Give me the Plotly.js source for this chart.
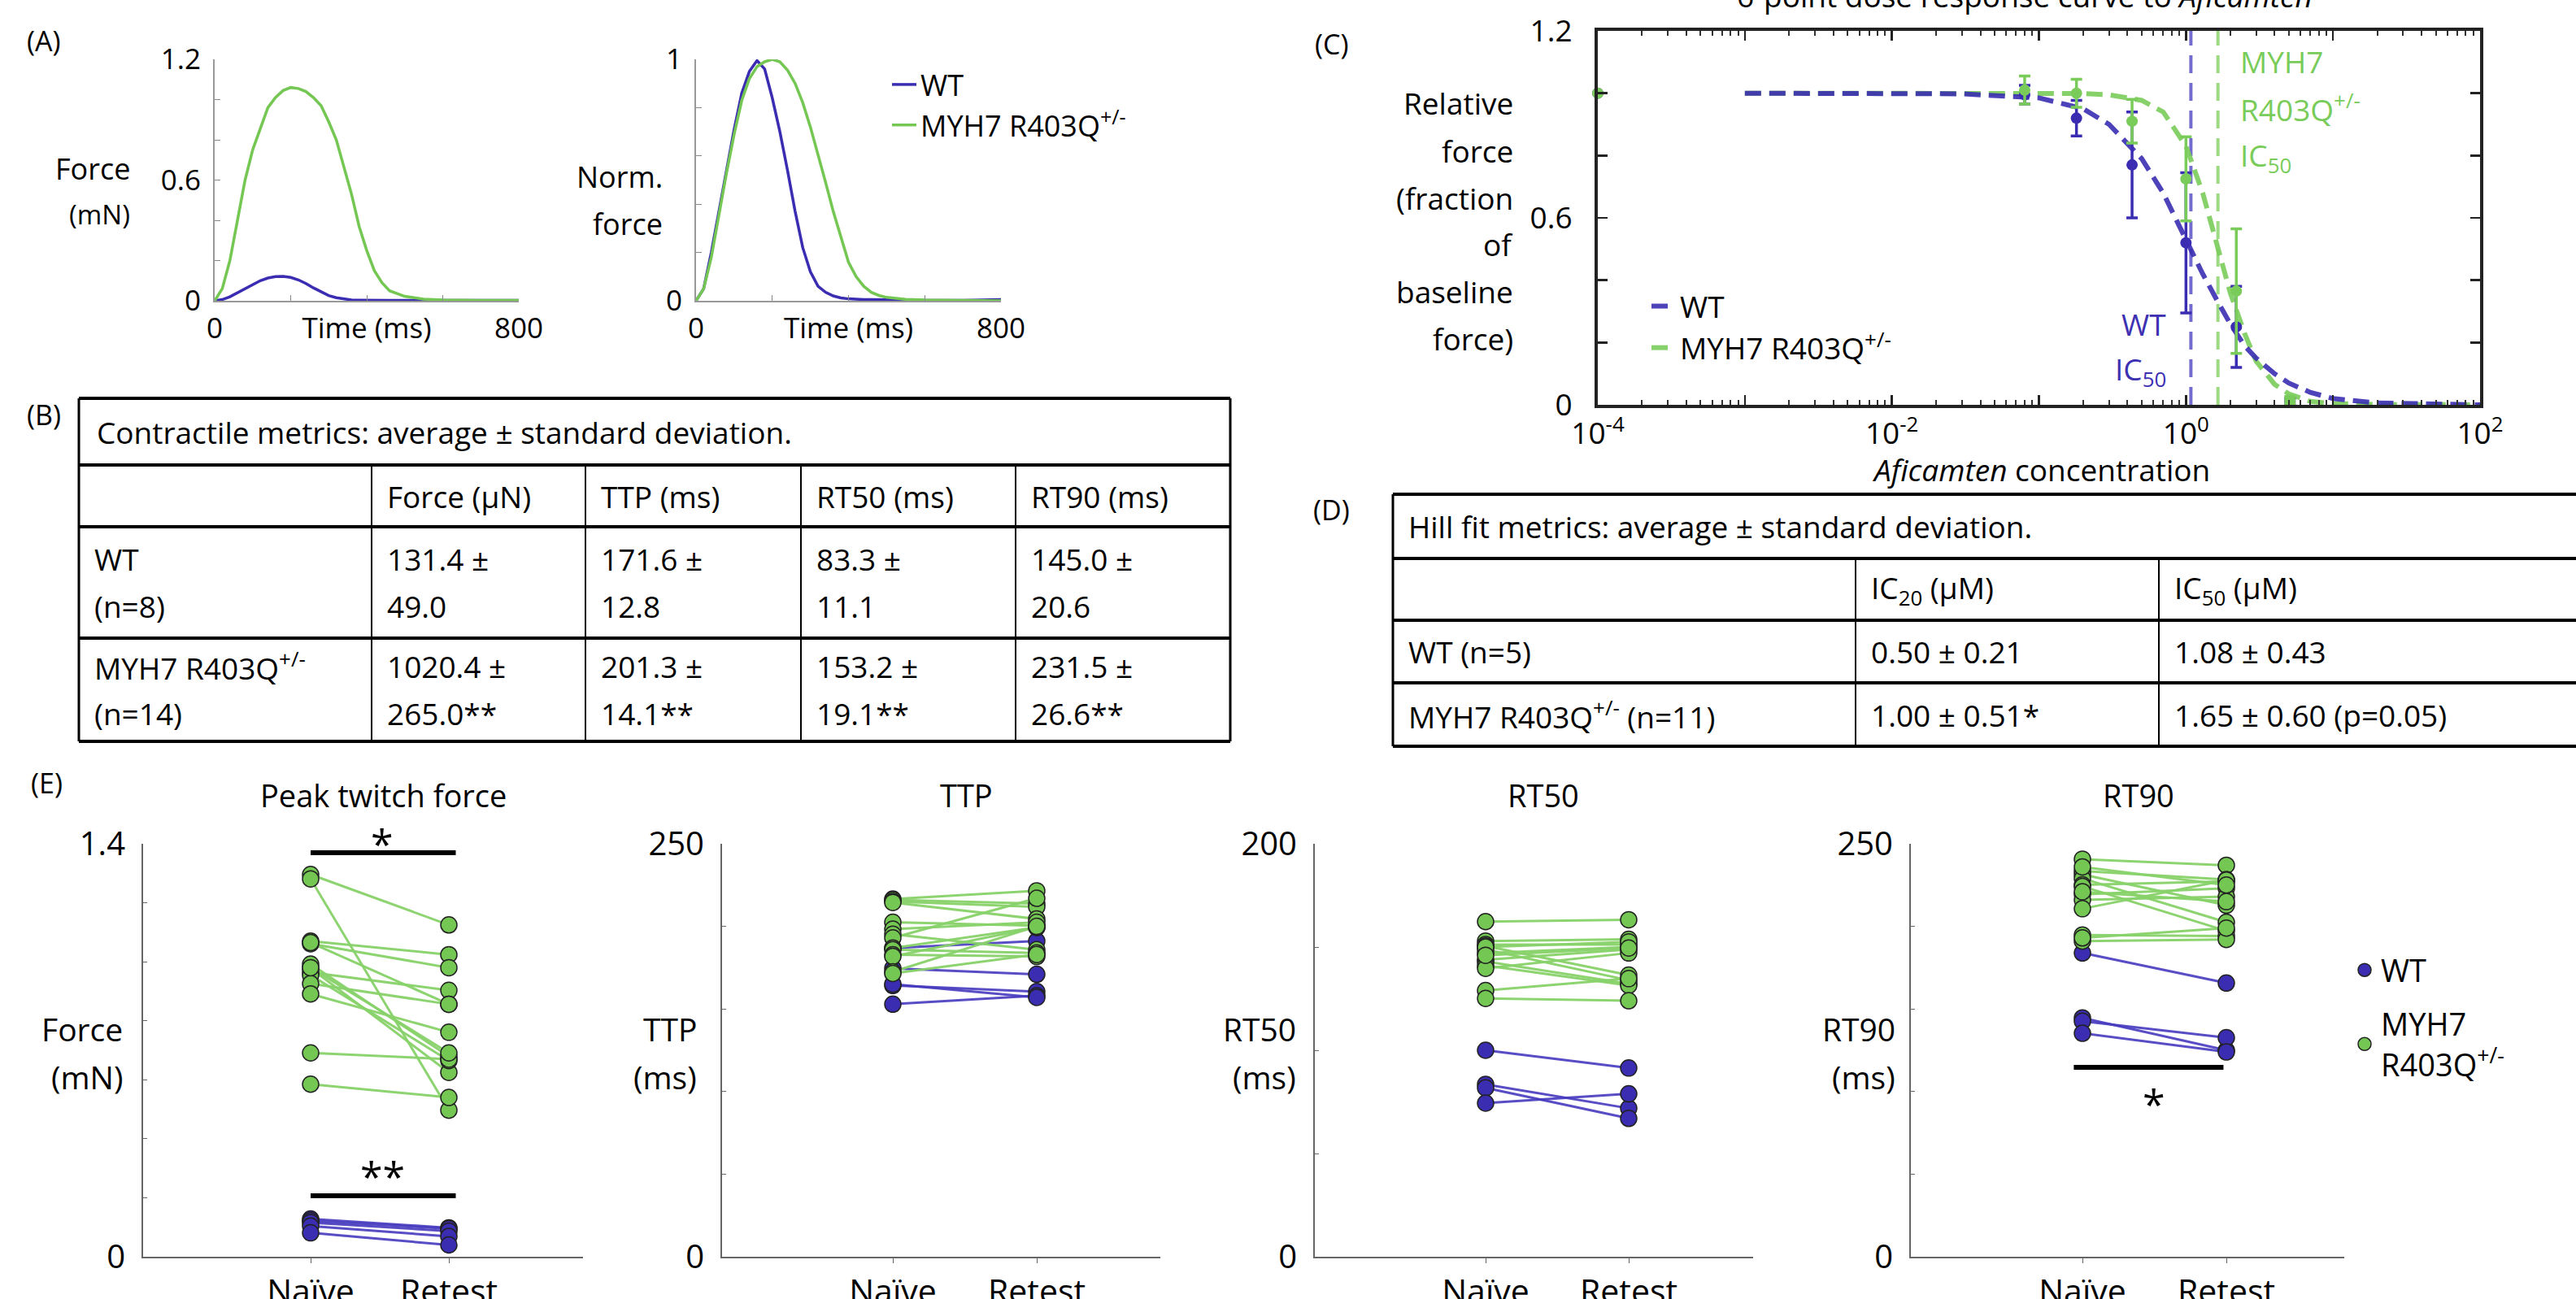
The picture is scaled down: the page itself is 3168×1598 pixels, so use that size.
<!DOCTYPE html>
<html><head><meta charset="utf-8">
<script src="https://cdn.plot.ly/plotly-3.0.1.min.js"></script>
<style>html,body{margin:0;padding:0;background:#fff}#chart{width:3168px;height:1598px}</style>
</head><body><div id="chart"></div>
<script>
// ================= DATA =================
// Panel A: representative twitch traces
const timeMs   = [0,20,40,60,80,100,120,140,160,180,200,220,240,260,280,300,320,340,360,380,400,420,440,460,480,500,550,600,700,800];
const forceWT  = [0,0.006,0.02,0.04,0.062,0.083,0.1,0.113,0.12,0.121,0.116,0.104,0.086,0.064,0.043,0.026,0.015,0.008,0.004,0.003,0.002,0.002,0.002,0.002,0.002,0.002,0.002,0.002,0.002,0.002];
const forceMut = [0,0.06,0.2,0.4,0.6,0.75,0.86,0.96,1.01,1.045,1.06,1.055,1.04,1.01,0.97,0.89,0.8,0.67,0.53,0.37,0.25,0.15,0.09,0.05,0.035,0.022,0.008,0.004,0.002,0.002];
const normWT   = [0,0.05,0.2,0.37,0.54,0.71,0.86,0.95,0.995,0.96,0.84,0.7,0.54,0.37,0.22,0.12,0.06,0.035,0.02,0.012,0.008,0.006,0.005,0.005,0.004,0.004,0.003,0.002,0.002,0.005];
const normMut  = [0,0.05,0.18,0.36,0.53,0.69,0.83,0.92,0.97,0.99,1.0,0.99,0.955,0.9,0.82,0.72,0.61,0.49,0.37,0.26,0.16,0.1,0.06,0.035,0.022,0.014,0.006,0.003,0.001,0];
const groupNames = ['WT', 'MYH7 R403Q<sup>+/-</sup>'];

// Panel C: dose response
const doses   = [0.0001, 0.08, 0.18, 0.43, 1.0, 2.2, 5.1];
const wtRel   = [1.0, 0.995, 0.92, 0.77, 0.52, 0.25, 0.01];
const wtErr   = [0, 0.03, 0.057, 0.17, 0.225, 0.13, 0.01];
const mutRel  = [1.0, 1.01, 1.0, 0.91, 0.725, 0.365, 0.015];
const mutErr  = [0, 0.045, 0.045, 0.07, 0.135, 0.2, 0.012];
const fitConc = [0.001,0.003,0.01,0.03,0.1,0.2,0.3,0.5,0.7,1.0,1.3,1.65,2,2.5,3,4,5,7,10,20,50,100];
const wtFit   = [1,1,1,0.998,0.985,0.95,0.9,0.79,0.68,0.53,0.42,0.33,0.26,0.19,0.15,0.1,0.07,0.04,0.02,0.006,0.001,0];
const mutFit  = [1,1,1,1,1,0.999,0.995,0.977,0.94,0.83,0.68,0.5,0.36,0.23,0.14,0.066,0.035,0.011,0.004,0.001,0,0];

// Panel B table
const tblBTitle  = 'Contractile metrics: average ± standard deviation.';
const tblBHeader = ['', 'Force (µN)', 'TTP (ms)', 'RT50 (ms)', 'RT90 (ms)'];
const tblBWT     = [['WT','(n=8)'], ['131.4 ±','49.0'], ['171.6 ±','12.8'], ['83.3 ±','11.1'], ['145.0 ±','20.6']];
const tblBMut    = [['MYH7 R403Q<sup>+/-</sup>','(n=14)'], ['1020.4 ±','265.0**'], ['201.3 ±','14.1**'], ['153.2 ±','19.1**'], ['231.5 ±','26.6**']];

// Panel D table
const tblDTitle  = 'Hill fit metrics: average ± standard deviation.';
const tblDHeader = ['', 'IC<sub>20</sub> (µM)', 'IC<sub>50</sub> (µM)'];
const tblDWT     = ['WT (n=5)', '0.50 ± 0.21', '1.08 ± 0.43'];
const tblDMut    = ['MYH7 R403Q<sup>+/-</sup> (n=11)', '1.00 ± 0.51*', '1.65 ± 0.60 (p=0.05)'];
const ic50WT = 1.08, ic50Mut = 1.65;

// Panel E: naive vs retest
const cats = ['Naïve', 'Retest'];
const forceWTNaive  = [0.128,0.122,0.116,0.104,0.081];
const forceWTRetest = [0.098,0.095,0.087,0.069,0.040];
const forceMutNaive  = [1.296,1.281,1.070,1.061,0.992,0.978,0.964,0.955,0.926,0.891,0.691,0.585,0.980,1.065];
const forceMutRetest = [1.125,0.497,1.024,0.980,0.679,0.625,0.903,0.665,0.856,0.761,0.670,0.540,0.691,0.856];
const ttpWTNaive  = [186.9,174.6,164.2,152.9,165.0];
const ttpWTRetest = [191.1,171.0,160.5,158.0,157.0];
const ttpMutNaive  = [216.5,216.0,215.0,214.5,202.5,198.3,195.2,193.0,186.9,185.9,182.8,181.8,172.5,171.5];
const ttpMutRetest = [221.5,213.8,211.8,204.5,200.4,202.5,185.9,217.0,199.4,183.9,181.8,199.4,200.0,183.0];
const rt50WTNaive  = [100.0,83.5,81.8,74.4];
const rt50WTRetest = [91.4,71.9,67.0,78.9];
const rt50MutNaive  = [162.3,152.9,151.2,150.5,148.8,147.0,143.8,143.0,141.0,139.7,128.9,125.1,150.0,146.0];
const rt50MutRetest = [163.2,153.7,151.2,136.4,133.9,150.0,148.8,132.2,131.4,147.1,134.7,124.0,152.5,149.5];
const rt90WTNaive  = [183.9,144.6,142.6,135.3];
const rt90WTRetest = [165.7,125.0,132.6,124.0];
const rt90MutNaive  = [240.7,233.5,231.4,229.0,225.2,224.2,219.4,216.0,210.7,194.8,191.1,193.0,236.0,221.0];
const rt90MutRetest = [237.0,228.3,212.8,202.5,227.3,197.3,223.1,218.0,228.0,194.2,192.1,199.0,225.0,215.0];

// ================= STYLE / LAYOUT HELPERS =================
const W = 3168, H = 1598;
const X = px => px / W;
const Y = py => 1 - py / H;
const FONT = '"Open Sans", Lato, sans-serif';
const BLUE = '#3a2db1', GREEN = '#74c752';
const BLUE_T = '#3d30b3', GREEN_T = '#7acc5a';

function T(x, y, text, size, xanchor, color, extra) {
  return Object.assign({xref:'paper', yref:'paper', x:X(x), y:Y(y), text:text, showarrow:false,
    xanchor:xanchor||'center', yanchor:'middle', align:xanchor||'center',
    font:{family:FONT, size:size||36, color:color||'#000'}}, extra||{});
}

const traces = [];
const annotations = [];
const shapes = [];

// ---------- Panel A ----------
traces.push({x:timeMs, y:forceWT, xaxis:'x', yaxis:'y', mode:'lines', line:{color:BLUE, width:3.5}, name:groupNames[0], legend:'legend', showlegend:true});
traces.push({x:timeMs, y:forceMut, xaxis:'x', yaxis:'y', mode:'lines', line:{color:GREEN, width:3.5}, name:groupNames[1], legend:'legend', showlegend:true});
traces.push({x:timeMs, y:normWT, xaxis:'x2', yaxis:'y2', mode:'lines', line:{color:BLUE, width:3.5}, showlegend:false});
traces.push({x:timeMs, y:normMut, xaxis:'x2', yaxis:'y2', mode:'lines', line:{color:GREEN, width:3.5}, showlegend:false});

const axA = (dom, anchor) => ({domain:dom, anchor:anchor, range:[0,800], tickvals:[0,400,800], ticktext:['0','Time (ms)','800'],
  ticks:'inside', ticklen:7, tickcolor:'#888', minor:{dtick:200, ticks:'inside', ticklen:7, tickcolor:'#888'},
  showline:true, linecolor:'#999', linewidth:2, showgrid:false, zeroline:false,
  tickfont:{family:FONT, size:35, color:'#000'}, ticklabelstandoff:2, fixedrange:true});
const ayA = (anchor, maxv, tv) => ({domain:[Y(370), Y(73)], anchor:anchor, range:[0,maxv], tickvals:tv,
  ticks:'inside', ticklen:7, tickcolor:'#888', minor:{dtick:0.2, ticks:'inside', ticklen:7, tickcolor:'#888'},
  showline:true, linecolor:'#999', linewidth:2, showgrid:false, zeroline:false,
  tickfont:{family:FONT, size:35, color:'#000'}, ticklabelstandoff:8});

annotations.push(T(54, 50, '(A)', 34));
annotations.push(T(162, 207, 'Force', 36, 'right'));
annotations.push(T(162, 263, '(mN)', 33, 'right'));
annotations.push(T(817, 218, 'Norm.', 36, 'right'));
annotations.push(T(817, 275, 'force', 36, 'right'));

// ---------- Panel C ----------
traces.push({x:[ic50WT, ic50WT], y:[0,1.2], xaxis:'x3', yaxis:'y3', mode:'lines', line:{color:'rgba(80,70,195,0.8)', width:4, dash:'22px,12px'}, showlegend:false});
traces.push({x:[ic50Mut, ic50Mut], y:[0,1.2], xaxis:'x3', yaxis:'y3', mode:'lines', line:{color:'rgba(140,212,110,0.85)', width:4, dash:'22px,12px'}, showlegend:false});
traces.push({x:fitConc, y:mutFit, xaxis:'x3', yaxis:'y3', mode:'lines', line:{color:'rgba(122,204,90,0.9)', width:6, dash:'20px,10px'}, name:groupNames[1], legend:'legend2'});
traces.push({x:fitConc, y:wtFit, xaxis:'x3', yaxis:'y3', mode:'lines', line:{color:'rgba(58,45,177,0.9)', width:6, dash:'20px,10px'}, name:groupNames[0], legend:'legend2'});
traces.push({x:doses, y:wtRel, xaxis:'x3', yaxis:'y3', mode:'markers', marker:{color:BLUE, size:14}, cliponaxis:false,
  error_y:{type:'data', array:wtErr, visible:true, color:BLUE, thickness:3.5, width:7}, showlegend:false});
traces.push({x:doses, y:mutRel, xaxis:'x3', yaxis:'y3', mode:'markers', marker:{color:GREEN_T, size:14}, cliponaxis:false,
  error_y:{type:'data', array:mutErr, visible:true, color:GREEN_T, thickness:3.5, width:7}, showlegend:false});

annotations.push(T(1637, 54, '(C)', 34));
annotations.push(T(2490, 22, '6-point dose response curve to <i>Aficamten</i>', 37, 'center', '#000', {yanchor:'bottom'}));
const cYTitle = ['Relative','force','(fraction','of','baseline','force)'];
const cYTitleY = [126,186,243,301,358,416];
cYTitle.forEach((s,i)=>annotations.push(T(1863, cYTitleY[i], s, 37, 'right')));
annotations.push(T(2510, 577, '<i>Aficamten</i> concentration', 37));
annotations.push(T(2753, 75, 'MYH7', 37, 'left', GREEN_T));
annotations.push(T(2753, 132, 'R403Q<sup>+/-</sup>', 37, 'left', GREEN_T));
annotations.push(T(2753, 193, 'IC<sub>50</sub>', 37, 'left', GREEN_T));
annotations.push(T(2666, 398, 'WT', 37, 'right', BLUE_T));
annotations.push(T(2666, 456, 'IC<sub>50</sub>', 37, 'right', BLUE_T));

// ---------- Tables ----------
function hline(x0, x1, y, w) { shapes.push({type:'line', xref:'paper', yref:'paper', x0:X(x0), x1:X(x1), y0:Y(y), y1:Y(y), line:{color:'#000', width:w}}); }
function vline(x, y0, y1, w) { shapes.push({type:'line', xref:'paper', yref:'paper', x0:X(x), x1:X(x), y0:Y(y0), y1:Y(y1), line:{color:'#000', width:w}}); }

// Table B
const bL = 97, bR = 1513, bRows = [490, 572, 648, 785, 912], bCols = [97, 457, 720, 985, 1249];
bRows.forEach(y=>hline(bL, bR, y, 4));
vline(bL, bRows[0], bRows[4], 3); vline(bR, bRows[0], bRows[4], 3);
bCols.slice(1).forEach(x=>vline(x, bRows[1], bRows[4], 2));
annotations.push(T(54, 510, '(B)', 34));
annotations.push(T(bL+20, (bRows[0]+bRows[1])/2, tblBTitle, 37, 'left'));
tblBHeader.forEach((s,i)=>{ if (s) annotations.push(T(bCols[i]+17, (bRows[1]+bRows[2])/2, s, 37, 'left')); });
[tblBWT, tblBMut].forEach((row, r)=>{
  const yc = (bRows[2+r]+bRows[3+r])/2;
  row.forEach((cell,i)=>{ cell.forEach((line,k)=>annotations.push(T(bCols[i]+17, yc + (k===0?-29:29), line, 37, 'left'))); });
});

// Table D
const dL = 1713, dR = 3168, dRows = [608, 687, 763, 840, 918], dCols = [1713, 2282, 2655];
dRows.forEach(y=>hline(dL, dR, y, 4));
vline(dL, dRows[0], dRows[4], 3);
dCols.slice(1).forEach(x=>vline(x, dRows[1], dRows[4], 2));
annotations.push(T(1637, 627, '(D)', 34));
annotations.push(T(dL+17, (dRows[0]+dRows[1])/2, tblDTitle, 37, 'left'));
tblDHeader.forEach((s,i)=>{ if (s) annotations.push(T(dCols[i]+17, (dRows[1]+dRows[2])/2, s, 37, 'left')); });
[tblDWT, tblDMut].forEach((row, r)=>{
  const yc = (dRows[2+r]+dRows[3+r])/2;
  row.forEach((cell,i)=>annotations.push(T(dCols[i]+17, yc, cell, 37, 'left')));
});

// ---------- Panel E ----------
function pairXY(a, b) { const x=[], y=[]; a.forEach((v,i)=>{ x.push(0,1,null); y.push(v,b[i],null); }); return {x, y}; }
const ePanels = [
  {ax:'4', wtN:forceWTNaive, wtR:forceWTRetest, mN:forceMutNaive, mR:forceMutRetest},
  {ax:'5', wtN:ttpWTNaive, wtR:ttpWTRetest, mN:ttpMutNaive, mR:ttpMutRetest},
  {ax:'6', wtN:rt50WTNaive, wtR:rt50WTRetest, mN:rt50MutNaive, mR:rt50MutRetest},
  {ax:'7', wtN:rt90WTNaive, wtR:rt90WTRetest, mN:rt90MutNaive, mR:rt90MutRetest}
];
ePanels.forEach((p, idx)=>{
  const xa = 'x'+p.ax, ya = 'y'+p.ax;
  const lw = pairXY(p.wtN, p.wtR), lm = pairXY(p.mN, p.mR);
  traces.push({x:lw.x, y:lw.y, xaxis:xa, yaxis:ya, mode:'lines', line:{color:'rgba(70,58,190,0.9)', width:3}, showlegend:false, connectgaps:false});
  traces.push({x:lm.x, y:lm.y, xaxis:xa, yaxis:ya, mode:'lines', line:{color:'rgba(135,210,105,0.95)', width:3}, showlegend:false, connectgaps:false});
  const last = idx === ePanels.length-1;
  traces.push({x:p.wtN.map(()=>0).concat(p.wtR.map(()=>1)), y:p.wtN.concat(p.wtR), xaxis:xa, yaxis:ya, mode:'markers',
    marker:{color:BLUE, size:20, line:{color:'#222', width:1.5}}, name:groupNames[0], legend:'legend3', showlegend:last, legendgroup:'wt', cliponaxis:false});
  traces.push({x:p.mN.map(()=>0).concat(p.mR.map(()=>1)), y:p.mN.concat(p.mR), xaxis:xa, yaxis:ya, mode:'markers',
    marker:{color:GREEN, size:20, line:{color:'#222', width:1.5}}, name:'MYH7<br>R403Q<sup>+/-</sup>', legend:'legend3', showlegend:last, legendgroup:'mut', cliponaxis:false});
});

function eX(dl, dr, nPx, rPx, anchor) {
  const u = rPx - nPx;
  return {domain:[X(dl), X(dr)], anchor:anchor, range:[-(nPx-dl)/u, 1+(dr-rPx)/u], tickvals:[0,1], ticktext:cats,
    ticks:'outside', ticklen:6, tickcolor:'#666', showline:true, linecolor:'#666', linewidth:2, showgrid:false, zeroline:false,
    tickfont:{family:FONT, size:41, color:'#000'}, fixedrange:true};
}
function eY(anchor, maxv, step) {
  return {domain:[Y(1546), Y(1038)], anchor:anchor, range:[0,maxv], tickvals:[0, maxv],
    ticks:'inside', ticklen:5, tickcolor:'#666', minor:{dtick:step, ticks:'inside', ticklen:5, tickcolor:'#666'},
    showline:true, linecolor:'#666', linewidth:2, showgrid:false, zeroline:false,
    tickfont:{family:FONT, size:40, color:'#000'}, ticklabelstandoff:12};
}

annotations.push(T(57, 963, '(E)', 34));
const eTitles = [['Peak twitch force', 472], ['TTP', 1188], ['RT50', 1898], ['RT90', 2630]];
eTitles.forEach(t=>annotations.push(T(t[1], 978, t[0], 38)));
const eYT = [['Force','(mN)',153], ['TTP','(ms)',859], ['RT50','(ms)',1596], ['RT90','(ms)',2333]];
eYT.forEach(t=>{ annotations.push(T(t[2], 1265, t[0], 39, 'right')); annotations.push(T(t[2], 1324, t[1], 39, 'right')); });

// significance markers (bars in data units, stars placed above/below)
function sigBar(ax, x0, x1, y) {
  shapes.push({type:'line', xref:'x'+ax, yref:'y'+ax, x0:x0, x1:x1, y0:y, y1:y, line:{color:'#000', width:6}});
}
sigBar('4', 0, 1.05, 1.37);
sigBar('4', 0, 1.05, 0.207);
sigBar('7', -0.06, 0.98, 114.7);
annotations.push(T(470, 1038, '*', 50));
annotations.push(T(470, 1447, '**', 50));
annotations.push(T(2649, 1358, '*', 50));

const layout = {
  width:W, height:H, autosize:false, margin:{l:0,r:0,t:0,b:0}, paper_bgcolor:'#fff', plot_bgcolor:'rgba(0,0,0,0)',
  font:{family:FONT, size:36, color:'#000'}, showlegend:true,
  xaxis: axA([X(264), X(638)], 'y'),
  yaxis: ayA('x', 1.2, [0,0.6,1.2]),
  xaxis2: axA([X(856), X(1231)], 'y2'),
  yaxis2: ayA('x2', 1.0, [0,1]),
  xaxis3: {domain:[X(1965), X(3050)], anchor:'y3', type:'log', range:[-4,2],
    tickvals:[1e-4,1e-3,1e-2,1e-1,1,10,100], ticktext:['10<sup>-4</sup>',' ','10<sup>-2</sup>',' ','10<sup>0</sup>',' ','10<sup>2</sup>'],
    ticks:'inside', ticklen:12, tickwidth:2.5, tickcolor:'#222', mirror:'allticks', showline:true, linecolor:'#222', linewidth:4,
    minor:{ticks:'inside', ticklen:6, tickwidth:2, tickcolor:'#333', dtick:'D1', showgrid:false},
    showgrid:false, zeroline:false, tickfont:{family:FONT, size:37, color:'#000'}, ticklabelstandoff:0},
  yaxis3: {domain:[Y(498), Y(38)], anchor:'x3', range:[0,1.2], tickvals:[0,0.6,1.2],
    ticks:'inside', ticklen:12, tickwidth:2.5, tickcolor:'#222', minor:{dtick:0.2, ticks:'inside', ticklen:12, tickwidth:2.5, tickcolor:'#222'},
    mirror:'allticks', showline:true, linecolor:'#222', linewidth:4,
    showgrid:false, zeroline:false, tickfont:{family:FONT, size:37, color:'#000'}, ticklabelstandoff:20},
  xaxis4: eX(176, 717, 382, 552, 'y4'),
  yaxis4: eY('x4', 1.4, 0.2),
  xaxis5: eX(888, 1427, 1098, 1275, 'y5'),
  yaxis5: eY('x5', 250, 50),
  xaxis6: eX(1617, 2156, 1827, 2003, 'y6'),
  yaxis6: eY('x6', 200, 50),
  xaxis7: eX(2350, 2883, 2561, 2738, 'y7'),
  yaxis7: eY('x7', 250, 50),
  legend: {x:X(1092), y:Y(74), xanchor:'left', yanchor:'top', bgcolor:'rgba(0,0,0,0)', font:{family:FONT, size:36, color:'#000'}, tracegroupgap:0},
  legend2: {x:X(2026), y:Y(346), xanchor:'left', yanchor:'top', bgcolor:'rgba(0,0,0,0)', font:{family:FONT, size:37, color:'#000'}, traceorder:'reversed'},
  legend3: {x:X(2888), y:Y(1162), xanchor:'left', yanchor:'top', bgcolor:'rgba(0,0,0,0)', font:{family:FONT, size:38, color:'#000'}, traceorder:'grouped', tracegroupgap:14},
  annotations: annotations,
  shapes: shapes
};

Plotly.newPlot('chart', traces, layout, {displayModeBar:false, staticPlot:true});
</script>
</body></html>
